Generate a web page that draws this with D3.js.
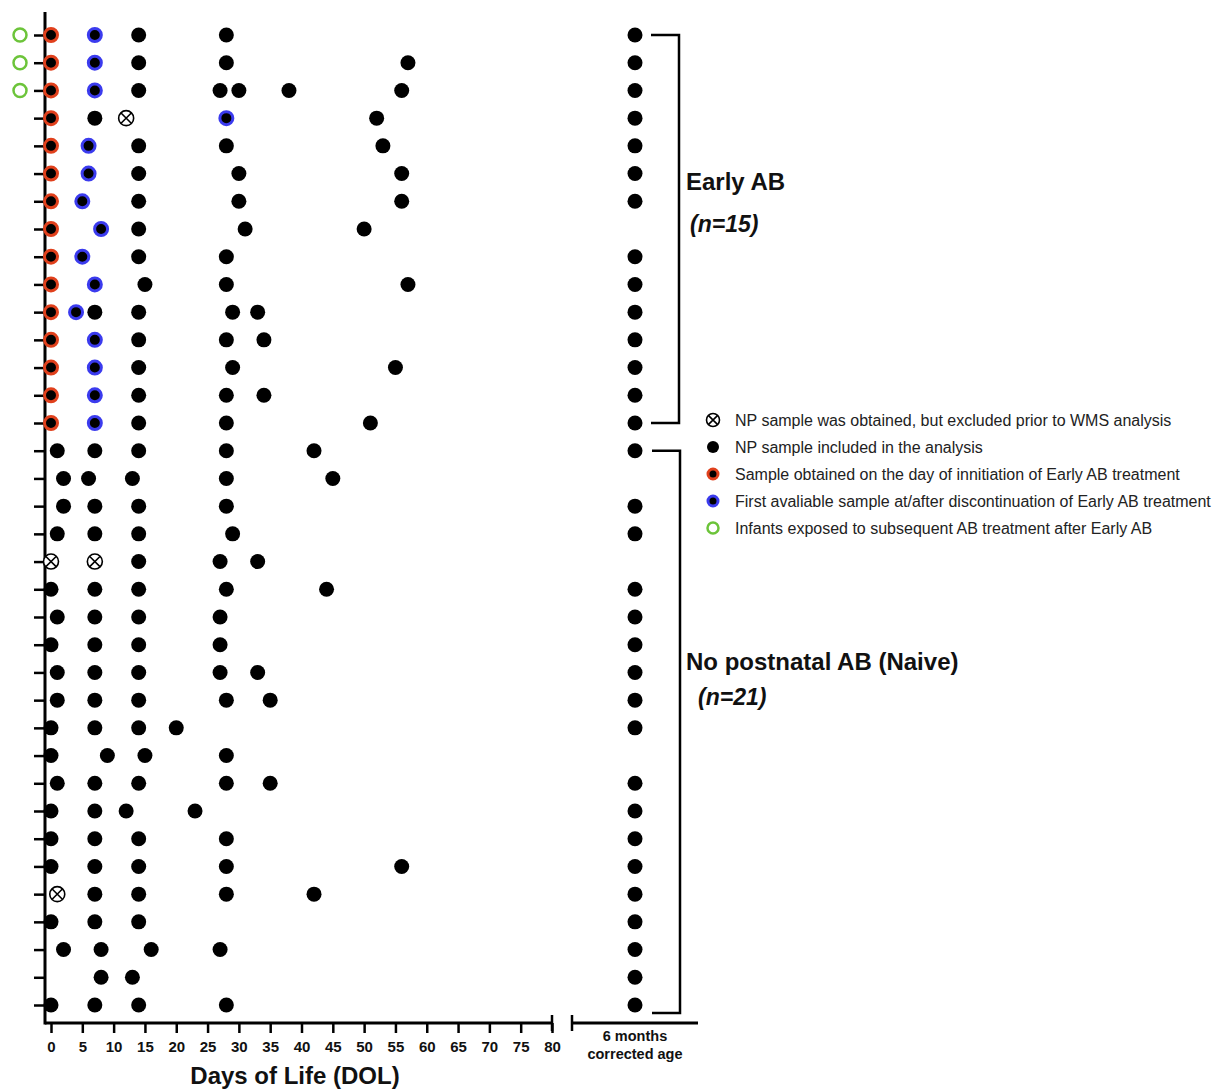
<!DOCTYPE html>
<html>
<head>
<meta charset="utf-8">
<script src="https://cdn.jsdelivr.net/npm/d3@7"></script>
<style>
  body { margin: 0; background: #fff; }
  svg { font-family: "Liberation Sans", Arial, sans-serif; }
</style>
</head>
<body>
<div id="chart"></div>
<script>
// black dots (included samples) per infant, rows top to bottom
const included = [
  [14, 28], [14, 28, 57], [14, 27, 30, 38, 56], [7, 52], [14, 28, 53],
  [14, 30, 56], [14, 30, 56], [14, 31, 50], [14, 28], [15, 28, 57],
  [7, 14, 29, 33], [14, 28, 34], [14, 29, 55], [14, 28, 34], [14, 28, 51],
  [1, 7, 14, 28, 42], [2, 6, 13, 28, 45], [2, 7, 14, 28], [1, 7, 14, 29], [14, 27, 33],
  [0, 7, 14, 28, 44], [1, 7, 14, 27], [0, 7, 14, 27], [1, 7, 14, 27, 33], [1, 7, 14, 28, 35],
  [0, 7, 14, 20], [0, 9, 15, 28], [1, 7, 14, 28, 35], [0, 7, 12, 23], [0, 7, 14, 28],
  [0, 7, 14, 28, 56], [7, 14, 28, 42], [0, 7, 14], [2, 8, 16, 27], [8, 13], [0, 7, 14, 28]
];
// day of initiation of Early AB (rows 0-14)
const initiationDay = [0, 0, 0, 0, 0, 0, 0, 0, 0, 0, 0, 0, 0, 0, 0];
// first available sample at/after discontinuation (rows 0-14)
const discontinuationDay = [7, 7, 7, 28, 6, 6, 5, 8, 5, 7, 4, 7, 7, 7, 7];
// excluded samples [row, day]
const excludedSamples = [[3, 12], [19, 0], [19, 7], [31, 1]];
// infants exposed to subsequent AB
const subsequentAB = [0, 1, 2];
// 6 months corrected age sample present (1) or not (0)
const sixMonths = [1,1,1,1,1,1,1,0,1,1,1,1,1,1,1,
                   1,0,1,1,0,1,1,1,1,1,1,0,1,1,1,1,1,1,1,1,1];
const xTicks = d3.range(0, 81, 5);
const groups = [
  {name: "Early AB", n: "(n=15)", from: 0, to: 14},
  {name: "No postnatal AB (Naive)", n: "(n=21)", from: 15, to: 35}
];
const legendItems = [
  ["excluded", "NP sample was obtained, but excluded prior to WMS analysis"],
  ["included", "NP sample included in the analysis"],
  ["initiation", "Sample obtained on the day of innitiation of Early AB treatment"],
  ["discontinuation", "First avaliable sample at/after discontinuation of Early AB treatment"],
  ["subsequent", "Infants exposed to subsequent AB treatment after Early AB"]
];

const w = 1222, h = 1091;
const red = "#e0401c", blue = "#3b3bee", green = "#6cc43a";
const svg = d3.select("#chart").append("svg").attr("width", w).attr("height", h);

const x = d3.scaleLinear().domain([0, 80]).range([51, 552]);
const y = d3.scaleLinear().domain([0, 35]).range([35, 1005]);
const xSix = 635;
const axisY = 1023, axisX = 45;

// axes
const yAxis = d3.axisLeft(y).tickValues(d3.range(36)).tickSize(11).tickFormat("");
const gy = svg.append("g").attr("transform", `translate(${axisX},0)`).call(yAxis);
gy.select(".domain").remove();
gy.selectAll(".tick line").attr("stroke-width", 2.5);
svg.append("line").attr("x1", axisX).attr("x2", axisX).attr("y1", 12).attr("y2", axisY + 1.5)
  .attr("stroke", "#000").attr("stroke-width", 3);

const xAxis = d3.axisBottom(x).tickValues(xTicks).tickSize(10).tickPadding(8);
const gx = svg.append("g").attr("transform", `translate(0,${axisY})`).call(xAxis);
gx.select(".domain").remove();
gx.selectAll(".tick line").attr("stroke-width", 2.5);
gx.selectAll(".tick text").attr("font-size", 15).attr("font-weight", "bold").attr("fill", "#111")
  .attr("font-family", "Liberation Sans, Arial, sans-serif");
svg.append("line").attr("x1", axisX).attr("x2", x(80)).attr("y1", axisY).attr("y2", axisY)
  .attr("stroke", "#000").attr("stroke-width", 3);
svg.append("line").attr("x1", x(80)).attr("x2", x(80)).attr("y1", axisY - 8).attr("y2", axisY + 8)
  .attr("stroke", "#000").attr("stroke-width", 2.5);

// 6 months segment
svg.append("line").attr("x1", 572).attr("x2", 698).attr("y1", axisY).attr("y2", axisY)
  .attr("stroke", "#000").attr("stroke-width", 3);
svg.append("line").attr("x1", 572).attr("x2", 572).attr("y1", axisY - 8).attr("y2", axisY + 8)
  .attr("stroke", "#000").attr("stroke-width", 2.5);
svg.append("text").attr("x", xSix).attr("y", 1041).attr("text-anchor", "middle")
  .attr("font-size", 14.5).attr("font-weight", "bold").attr("fill", "#111").text("6 months");
svg.append("text").attr("x", xSix).attr("y", 1059).attr("text-anchor", "middle")
  .attr("font-size", 14.5).attr("font-weight", "bold").attr("fill", "#111").text("corrected age");

svg.append("text").attr("x", 295).attr("y", 1084).attr("text-anchor", "middle")
  .attr("font-size", 24).attr("font-weight", "bold").attr("fill", "#111").text("Days of Life (DOL)");

// marker helpers
function dot(g, cx, cy, r) {
  g.append("circle").attr("cx", cx).attr("cy", cy).attr("r", r || 7.5).attr("fill", "#000");
}
function ring(g, cx, cy, color, r) {
  g.append("circle").attr("cx", cx).attr("cy", cy).attr("r", r || 6.5)
    .attr("fill", "#000").attr("stroke", color).attr("stroke-width", 3);
}
function excl(g, cx, cy, r) {
  r = r || 7.5;
  g.append("circle").attr("cx", cx).attr("cy", cy).attr("r", r)
    .attr("fill", "#fff").attr("stroke", "#000").attr("stroke-width", 1.6);
  const d = r * 0.68;
  g.append("path").attr("d", `M${cx - d},${cy - d}L${cx + d},${cy + d}M${cx + d},${cy - d}L${cx - d},${cy + d}`)
    .attr("stroke", "#000").attr("stroke-width", 1.6);
}
function open(g, cx, cy, r) {
  g.append("circle").attr("cx", cx).attr("cy", cy).attr("r", r || 6.5)
    .attr("fill", "none").attr("stroke", green).attr("stroke-width", 2.5);
}

const marks = svg.append("g");
included.forEach((days, i) => days.forEach(d => dot(marks, x(d), y(i))));
initiationDay.forEach((d, i) => ring(marks, x(d), y(i), red));
discontinuationDay.forEach((d, i) => ring(marks, x(d), y(i), blue));
excludedSamples.forEach(([r, d]) => excl(marks, x(d), y(r)));
subsequentAB.forEach(r => open(marks, 20, y(r)));
sixMonths.forEach((v, i) => { if (v) dot(marks, xSix, y(i)); });

// group brackets
groups.forEach((g, gi) => {
  const y0 = y(g.from), y1 = gi === 1 ? y(g.to) + 8 : y(g.to);
  const x0 = 651 + gi, x1 = 679 + gi;
  svg.append("path").attr("d", `M${x0},${y0}H${x1}V${y1}H${x0}`)
    .attr("fill", "none").attr("stroke", "#000").attr("stroke-width", 2.5);
});
svg.append("text").attr("x", 686).attr("y", 190).attr("font-size", 24).attr("font-weight", "bold")
  .attr("fill", "#111").text(groups[0].name);
svg.append("text").attr("x", 690).attr("y", 232).attr("font-size", 23).attr("font-weight", "bold")
  .attr("font-style", "italic").attr("fill", "#111").text(groups[0].n);
svg.append("text").attr("x", 686).attr("y", 670).attr("font-size", 24).attr("font-weight", "bold")
  .attr("fill", "#111").text(groups[1].name);
svg.append("text").attr("x", 698).attr("y", 705).attr("font-size", 23).attr("font-weight", "bold")
  .attr("font-style", "italic").attr("fill", "#111").text(groups[1].n);

// legend
const legend = svg.append("g");
legendItems.forEach(([type, label], i) => {
  const ly = 420 + i * 27, lx = 713;
  if (type === "excluded") excl(legend, lx, ly, 6.5);
  if (type === "included") dot(legend, lx, ly, 6);
  if (type === "initiation") ring(legend, lx, ly, red, 5);
  if (type === "discontinuation") ring(legend, lx, ly, blue, 5);
  if (type === "subsequent") open(legend, lx, ly, 5.5);
  legend.append("text").attr("x", 735).attr("y", ly + 5.5).attr("font-size", 16)
    .attr("fill", "#222").text(label);
});
</script>
</body>
</html>
